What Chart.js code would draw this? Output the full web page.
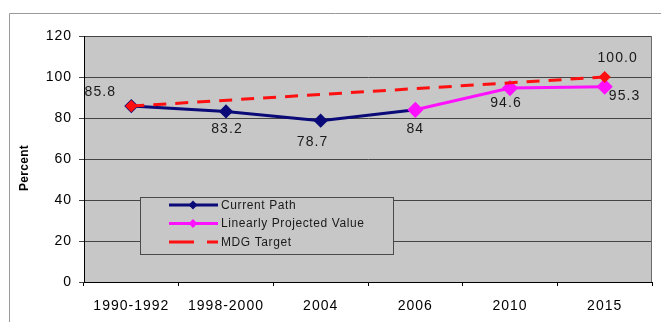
<!DOCTYPE html>
<html>
<head>
<meta charset="utf-8">
<script src="https://cdn.jsdelivr.net/npm/chart.js@4.4.1/dist/chart.umd.min.js"></script>
<style>
  html, body { margin: 0; padding: 0; background: #fff; }
  #wrap { width: 661px; height: 322px; }
</style>
</head>
<body>
<div id="wrap"><canvas id="c" width="661" height="322"></canvas></div>
<script>
// Survey periods and the three series
const categories = ['1990-1992', '1998-2000', '2004', '2006', '2010', '2015'];
const currentPath = [85.8, 83.2, 78.7, 84, null, null];
const projectedValue = [null, null, null, 84, 94.6, 95.3];
const mdgTarget = [85.8, null, null, null, null, 100.0];
const yTicks = [0, 20, 40, 60, 80, 100, 120];

const FONT = '"Liberation Sans", Arial, sans-serif';
const PLOT_BG = '#c7c7c7';

// Value labels: which dataset/point gets a label, how it is formatted and where it sits
const valueLabels = [
  { ds: 0, i: 0, dx: -31, dy: -14, fmt: v => String(v) },
  { ds: 0, i: 1, dx: 1, dy: 18, fmt: v => String(v) },
  { ds: 0, i: 2, dx: -8, dy: 21, fmt: v => String(v) },
  { ds: 0, i: 3, dx: 0, dy: 19, fmt: v => String(v) },
  { ds: 1, i: 4, dx: -4, dy: 15, fmt: v => String(v) },
  { ds: 1, i: 5, dx: 20, dy: 10, fmt: v => String(v) },
  { ds: 2, i: 5, dx: 13, dy: -19, fmt: v => v.toFixed(1) }
];

const decorations = {
  id: 'decorations',
  beforeDraw(chart) {
    const { ctx, chartArea: a } = chart;
    ctx.save();
    // outer frame
    ctx.strokeStyle = '#9a9a9a';
    ctx.lineWidth = 1;
    ctx.beginPath();
    ctx.moveTo(9.5, 322);
    ctx.lineTo(9.5, 13.5);
    ctx.lineTo(661, 13.5);
    ctx.stroke();
    // plot background
    ctx.fillStyle = PLOT_BG;
    ctx.fillRect(a.left, a.top, a.right - a.left, a.bottom - a.top);
    ctx.restore();
    ctx.letterSpacing = '1px';
  },
  afterDatasetsDraw(chart) {
    const { ctx, chartArea: a } = chart;
    ctx.save();
    // right edge of the plot
    ctx.strokeStyle = '#6a6a6a';
    ctx.lineWidth = 1;
    ctx.beginPath();
    ctx.moveTo(Math.round(a.right) - 0.5, a.top);
    ctx.lineTo(Math.round(a.right) - 0.5, a.bottom);
    ctx.stroke();

    // value labels
    ctx.font = '14px ' + FONT;
    ctx.letterSpacing = '1.1px';
    ctx.fillStyle = '#1a1a1a';
    ctx.textAlign = 'center';
    ctx.textBaseline = 'middle';
    valueLabels.forEach(l => {
      const pt = chart.getDatasetMeta(l.ds).data[l.i];
      const v = chart.data.datasets[l.ds].data[l.i];
      ctx.fillText(l.fmt(v), pt.x + l.dx, pt.y + l.dy);
    });

    // y axis title
    ctx.save();
    ctx.translate(25, 168);
    ctx.rotate(-Math.PI / 2);
    ctx.font = 'bold 12px ' + FONT;
    ctx.letterSpacing = '0.3px';
    ctx.fillStyle = '#000';
    ctx.fillText('Percent', 0, 0);
    ctx.restore();

    // legend box
    const bx = 140.5, by = 197.5, bw = 253, bh = 57;
    ctx.fillStyle = PLOT_BG;
    ctx.fillRect(bx, by, bw, bh);
    ctx.strokeStyle = '#4a4a4a';
    ctx.lineWidth = 1;
    ctx.strokeRect(bx, by, bw, bh);
    const rows = [205, 223.5, 242];
    chart.data.datasets.forEach((ds, k) => {
      const y = rows[k];
      ctx.save();
      ctx.strokeStyle = ds.borderColor;
      ctx.lineWidth = ds.borderWidth;
      if (ds.borderDash) ctx.setLineDash([25, 13]);
      ctx.beginPath();
      ctx.moveTo(169, y);
      ctx.lineTo(218, y);
      ctx.stroke();
      ctx.restore();
      if (!ds.borderDash) {
        const r = 4.5;
        ctx.fillStyle = ds.pointBackgroundColor;
        ctx.beginPath();
        ctx.moveTo(193, y - r);
        ctx.lineTo(193 + r, y);
        ctx.lineTo(193, y + r);
        ctx.lineTo(193 - r, y);
        ctx.closePath();
        ctx.fill();
      }
      ctx.font = '12px ' + FONT;
      ctx.letterSpacing = '0.6px';
      ctx.fillStyle = '#1a1a1a';
      ctx.textAlign = 'left';
      ctx.textBaseline = 'middle';
      ctx.fillText(ds.label, 221, y + 0.5);
    });
    ctx.restore();
  }
};

new Chart(document.getElementById('c'), {
  type: 'line',
  data: {
    labels: categories,
    datasets: [
      {
        label: 'Current Path',
        data: currentPath,
        borderColor: '#0a0a78',
        backgroundColor: '#0a0a78',
        pointBackgroundColor: '#0a0a78',
        pointBorderColor: '#0a0a78',
        borderWidth: 3,
        pointStyle: 'rectRot',
        pointRadius: 5,
        tension: 0,
        order: 2
      },
      {
        label: 'Linearly Projected Value',
        data: projectedValue,
        borderColor: '#ff10ff',
        backgroundColor: '#ff10ff',
        pointBackgroundColor: '#ff10ff',
        pointBorderColor: '#ff10ff',
        borderWidth: 3,
        pointStyle: 'rectRot',
        pointRadius: 6,
        tension: 0,
        order: 1
      },
      {
        label: 'MDG Target',
        data: mdgTarget,
        borderColor: '#ff1010',
        backgroundColor: '#ff1010',
        pointBackgroundColor: '#ff1010',
        pointBorderColor: '#ff1010',
        borderWidth: 3,
        borderDash: [13, 9],
        pointStyle: 'rectRot',
        pointRadius: 4,
        spanGaps: true,
        tension: 0,
        order: 0
      }
    ]
  },
  options: {
    responsive: false,
    devicePixelRatio: 1,
    animation: false,
    layout: { padding: { top: 36, right: 3, bottom: 0, left: 0 } },
    plugins: {
      legend: { display: false },
      tooltip: { enabled: false }
    },
    scales: {
      x: {
        offset: true,
        grid: {
          display: true,
          offset: true,
          drawOnChartArea: false,
          drawTicks: true,
          tickLength: 4,
          color: '#000'
        },
        border: { display: true, color: '#000', width: 1 },
        ticks: {
          font: { family: FONT, size: 14 },
          color: '#000',
          padding: 12,
          maxRotation: 0,
          autoSkip: false
        },
        afterFit(scale) { scale.height = 40; }
      },
      y: {
        min: 0,
        max: 120,
        afterBuildTicks(scale) { scale.ticks = yTicks.map(v => ({ value: v })); },
        grid: {
          color: '#444',
          lineWidth: 1,
          drawTicks: true,
          tickLength: 5
        },
        border: { display: true, color: '#000', width: 1 },
        ticks: {
          font: { family: FONT, size: 14 },
          color: '#000',
          padding: 7
        },
        afterFit(scale) { scale.width = 84; }
      }
    }
  },
  plugins: [decorations]
});
</script>
</body>
</html>
